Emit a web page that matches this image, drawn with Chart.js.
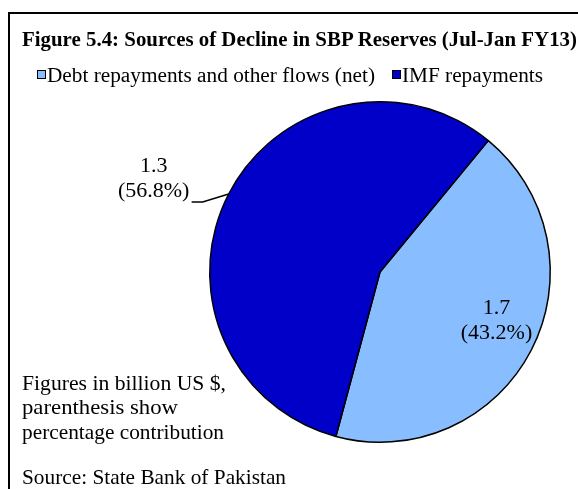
<!DOCTYPE html>
<html>
<head>
<meta charset="utf-8">
<script src="https://cdn.jsdelivr.net/npm/chart.js@4.4.0/dist/chart.umd.min.js"></script>
<style>
  body { margin: 0; background: #fff; }
  #wrap { position: relative; width: 578px; height: 489px; overflow: hidden; font-family: "Liberation Serif", "Times New Roman", serif; color: #000; }
  #frame { position: absolute; left: 8px; top: 12px; width: 600px; height: 500px; border-left: 2px solid #000; border-top: 2px solid #000; }
  canvas { position: absolute; left: 0; top: 0; }
  .t { position: absolute; white-space: nowrap; transform-origin: 0 0; }
  .box { position: absolute; width: 7px; height: 7px; border: 1px solid #000; }
  .lbl { position: absolute; text-align: center; font-size: 22px; line-height: 25px; white-space: nowrap; }
</style>
</head>
<body>
<div id="wrap">
  <div id="frame"></div>
  <canvas id="pie" width="578" height="489"></canvas>
  <div class="t" id="title" data-w="555" style="left:22px;top:27px;font-size:21px;font-weight:bold;line-height:24px;"></div>
  <div id="legend"></div>
  <div class="t" data-w="204" style="left:22px;top:371px;font-size:21px;line-height:24px;">Figures in billion US $,</div>
  <div class="t" data-w="156" style="left:22px;top:395px;font-size:21px;line-height:24px;">parenthesis show</div>
  <div class="t" data-w="202" style="left:22px;top:420px;font-size:21px;line-height:24px;">percentage contribution</div>
  <div class="t" data-w="264" style="left:22px;top:465px;font-size:21px;line-height:24px;">Source: State Bank of Pakistan</div>
  <div class="lbl" id="lbl0"></div>
  <div class="lbl" id="lbl1"></div>
</div>
<script>
"use strict";
// data
let titleText = "Figure 5.4: Sources of Decline in SBP Reserves (Jul-Jan FY13)";
let labelArr = ["Debt repayments and other flows (net)", "IMF repayments"];
let shareArr = [43.2, 56.8];      // percent, sets slice size
let amountArr = ["1.7", "1.3"];   // billion US $ as printed
let colorArr = ["#88BEFF", "#0000C8"];

document.getElementById("title").textContent = titleText;

// legend
let legend = document.getElementById("legend");
let legendX = [37, 392];
let legendW = [328, 141];
for (let i = 0; i < labelArr.length; i++) {
  let b = document.createElement("div");
  b.className = "box";
  b.style.left = legendX[i] + "px";
  b.style.top = "70px";
  b.style.background = colorArr[i];
  legend.appendChild(b);
  let t = document.createElement("div");
  t.className = "t";
  t.textContent = labelArr[i];
  t.dataset.w = legendW[i];
  t.style.left = (legendX[i] + 10) + "px";
  t.style.top = "63px";
  t.style.fontSize = "20px";
  t.style.lineHeight = "24px";
  legend.appendChild(t);
}

// squeeze text to the widths seen in the figure
function fitText() {
  let els = document.querySelectorAll(".t[data-w]");
  for (let i = 0; i < els.length; i++) {
    let w = els[i].getBoundingClientRect().width;
    let s = Number(els[i].dataset.w) / w;
    els[i].style.transform = "scaleX(" + s + ")";
  }
}

// labels on / next to slices, placed from the arc geometry
let labelPlugin = {
  id: "sliceLabels",
  afterDraw(chart) {
    let ctx = chart.ctx;
    let arcs = chart.getDatasetMeta(0).data;
    for (let i = 0; i < arcs.length; i++) {
      let a = arcs[i];
      let mid = (a.startAngle + a.endAngle) / 2;
      let el = document.getElementById("lbl" + i);
      el.innerHTML = amountArr[i] + "<br>(" + shareArr[i].toFixed(1) + "%)";
      if (i == 0) {
        let r = a.outerRadius * 0.77;
        let x = a.x + Math.cos(mid) * r;
        let y = a.y + Math.sin(mid) * r;
        el.style.left = (x - 40) + "px";
        el.style.width = "80px";
        el.style.top = (y - 38) + "px";
      } else {
        let ex = a.x + Math.cos(mid) * a.outerRadius;
        let ey = a.y + Math.sin(mid) * a.outerRadius;
        let kx = ex - 26;
        let ky = ey + 8;
        let hx = kx - 11;
        ctx.save();
        ctx.strokeStyle = "#000";
        ctx.lineWidth = 1.5;
        ctx.beginPath();
        ctx.moveTo(ex, ey);
        ctx.lineTo(kx, ky);
        ctx.lineTo(hx, ky);
        ctx.stroke();
        ctx.restore();
        el.style.left = (hx - 76) + "px";
        el.style.width = "76px";
        el.style.top = (ky - 50) + "px";
      }
    }
  }
};

let ctx = document.getElementById("pie").getContext("2d");
let myChart = new Chart(ctx, {
  type: "pie",
  data: {
    labels: labelArr,
    datasets: [
      {
        data: shareArr,
        backgroundColor: colorArr,
        borderColor: "#000",
        borderWidth: 1.5,
      },
    ],
  },
  options: {
    responsive: false,
    animation: false,
    rotation: 39.5,
    layout: {
      padding: { left: 209, right: 27, top: 101, bottom: 46 },
    },
    plugins: {
      legend: { display: false },
      title: { display: false },
      tooltip: { enabled: false },
    },
  },
  plugins: [labelPlugin],
});

fitText();
</script>
</body>
</html>
